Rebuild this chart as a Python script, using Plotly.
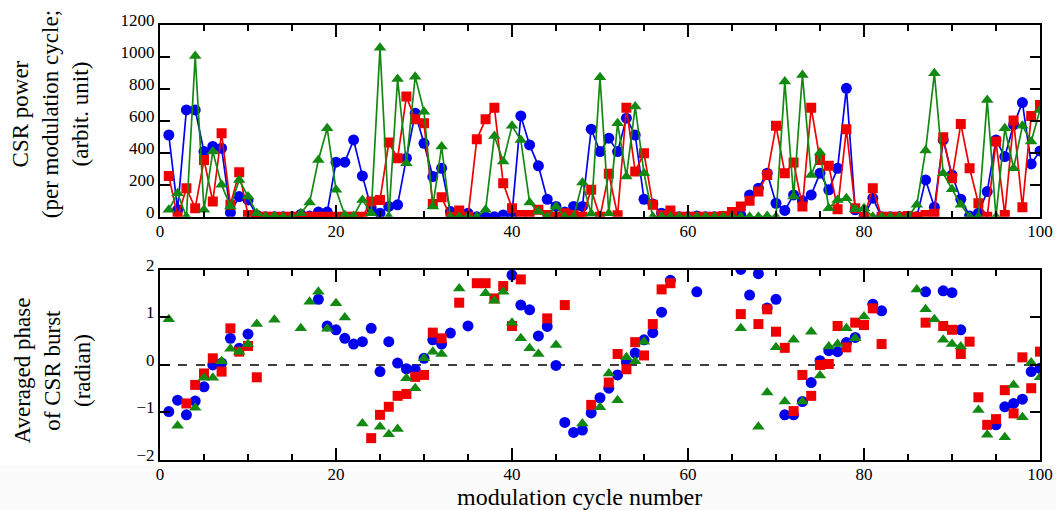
import plotly.graph_objects as go

cycles = list(range(1, 101))

blue_power = [512, 44, 669, 669, 408, 440, 429, 27, 127, 106,
              10, 0, 0, 0, 0, 15, 5, 30, 30, 342,
              342, 481, 256, 55, 23, 65, 75, 367, 648, 460,
              252, 304, 33, 0, 23, 0, 0, 0, 12, 15,
              631, 450, 319, 110, 65, 30, 65, 65, 548, 408,
              492, 408, 617, 512, 110, 81, 23, 5, 0, 0,
              5, 0, 0, 0, 0, 10, 137, 179, 273, 85,
              40, 137, 100, 137, 273, 169, 304, 804, 44, 0,
              117, 0, 0, 0, 0, 0, 231, 60, 481, 262,
              110, 6, 23, 158, 481, 377, 575, 715, 331, 412]

red_power = [256, 0, 179, 54, 356, 96, 523, 75, 279, 12,
             0, 0, 0, 0, 0, 0, 0, 0, 0, 0,
             0, 0, 0, 96, 106, 465, 367, 752, 610, 585,
             81, 123, 0, 40, 0, 485, 610, 683, 210, 54,
             12, 12, 44, 12, 0, 23, 12, 0, 169, 0,
             269, 10, 683, 283, 398, 75, 10, 40, 0, 0,
             0, 0, 0, 5, 30, 65, 100, 158, 262, 569,
             273, 340, 65, 683, 356, 319, 48, 548, 54, 0,
             179, 0, 0, 0, 6, 0, 12, 20, 498, 242,
             581, 304, 85, 0, 471, 12, 602, 60, 631, 700]

green_power = [44, 148, 0, 1006, 44, 408, 200, 65, 231, 127,
               23, 0, 6, 0, 0, 23, 90, 356, 554, 169,
               12, 6, 106, 23, 1058, 0, 862, 335, 877, 658,
               65, 440, 0, 0, 0, 0, 44, 506, 346, 569,
               481, 90, 33, 0, 65, 0, 0, 215, 20, 873,
               23, 585, 252, 690, 273, 0, 0, 0, 0, 0,
               0, 0, 0, 0, 0, 0, 0, 0, 5, 0,
               846, 127, 887, 262, 402, 54, 106, 117, 48, 54,
               0, 0, 0, 0, 0, 75, 415, 898, 273, 173,
               75, 0, 0, 731, 0, 554, 304, 569, 471, 669]

N = None
blue_phase = [-0.98, -0.74, -1.05, -0.76, -0.46, 0.0, 0.04, 0.56, 0.35, 0.65,
              N, N, N, N, N, N, N, 1.38, 0.82, 0.74,
              0.56, 0.44, 0.49, 0.77, -0.14, 0.49, 0.04, -0.08, -0.10, 0.14,
              0.53, 0.44, 0.67, N, 0.82, N, N, N, N, 1.89,
              1.26, 1.16, 0.61, 0.81, -0.01, -1.21, -1.42, -1.37, -1.01, -0.69,
              -0.49, -0.21, 0.06, 0.25, 0.53, 0.68, 1.11, 1.78, N, N,
              1.54, N, N, N, N, 2.01, 1.47, 1.92, 1.20, 1.38,
              -1.05, -1.05, -0.77, -0.37, 0.09, 0.30, 0.28, 0.47, 0.58, N,
              1.28, 1.14, N, N, N, N, 1.54, N, 1.56, 1.52,
              0.74, N, N, N, -1.26, -0.88, -0.81, -0.72, -0.14, -0.07]

red_phase = [N, N, -0.81, -0.42, -0.18, 0.14, -0.14, 0.77, 0.28, 0.40,
             -0.26, N, N, N, N, N, N, N, N, N,
             N, N, N, -1.54, -1.05, -0.88, -0.65, -0.61, -0.25, -0.21,
             0.68, 0.56, N, 1.31, N, 1.72, 1.72, 1.40, 1.66, 0.82,
             1.80, N, N, 0.98, N, 1.26, N, N, -0.84, N,
             -0.37, 0.23, -0.09, 0.48, 0.20, 0.86, 1.59, 1.72, N, N,
             N, N, N, N, N, 1.07, N, 0.86, 1.17, 0.70,
             0.36, -0.97, -0.21, -0.65, 0.0, 0.02, 0.82, 0.37, 0.89, 0.84,
             1.19, 0.44, N, N, N, N, 0.89, N, 0.82, 0.74,
             0.23, 0.49, -0.68, -1.26, -1.14, -0.53, -1.02, 0.16, -0.49, 0.28]

green_phase = [0.96, -1.28, N, -0.90, -0.27, -0.27, 0.08, 0.34, 0.28, 0.44,
               0.86, N, 0.95, N, N, 0.77, 1.33, 1.54, 0.76, 1.30,
               1.00, N, -1.23, N, -1.30, -1.46, -1.35, -0.28, -0.49, 0.14,
               0.28, 0.23, N, 1.61, N, N, 1.51, 1.35, 1.54, 0.89,
               0.56, 0.35, 0.23, N, 0.42, N, N, -1.23, N, -0.89,
               -0.18, -0.74, 0.16, 0.08, 0.49, N, N, N, N, N,
               N, N, N, N, N, 0.77, N, -1.30, -0.58, 0.37,
               -0.77, 0.53, -0.77, 0.70, -0.22, 0.39, 0.44, 0.77, 0.56, 1.02,
               N, N, N, N, N, 1.59, 1.17, 0.96, 0.53, 0.44,
               0.39, N, -0.95, -1.47, N, -1.52, -0.42, -1.10, 0.05, -0.26]

power_ticks = [0, 200, 400, 600, 800, 1000, 1200]
phase_ticks = [-2, -1, 0, 1, 2]
x_ticks = [0, 20, 40, 60, 80, 100]

BLUE = "#0000ee"
RED = "#ee0000"
GREEN = "#128a12"

series = [
    ("blue", blue_power, blue_phase, BLUE, "circle", 11),
    ("red", red_power, red_phase, RED, "square", 10),
    ("green", green_power, green_phase, GREEN, "triangle-up", 11),
]

fig = go.Figure()
for name, pw, ph, col, sym, sz in series:
    fig.add_trace(go.Scatter(x=cycles, y=pw, mode="lines+markers", name=name,
                             xaxis="x2", yaxis="y2",
                             line=dict(color=col, width=1.7),
                             marker=dict(color=col, symbol=sym, size=sz,
                                         line=dict(width=0)),
                             showlegend=False))
for name, pw, ph, col, sym, sz in series:
    fig.add_trace(go.Scatter(x=cycles, y=ph, mode="markers", name=name,
                             xaxis="x", yaxis="y",
                             marker=dict(color=col, symbol=sym, size=sz,
                                         line=dict(width=0)),
                             showlegend=False))

TICKFONT = dict(family="Liberation Serif", size=17, color="black")
common_x = dict(range=[0, 100], tickvals=x_ticks, ticks="inside", ticklen=12,
                tickwidth=1.5, tickcolor="black", showline=True, linecolor="black",
                linewidth=2, mirror="allticks", showgrid=False, zeroline=False,
                tickfont=TICKFONT, ticklabelstandoff=-2, automargin=False,
                minor=dict(dtick=5, ticks="inside", ticklen=6, tickwidth=1.5,
                           tickcolor="black", showgrid=False))
common_y = dict(ticks="inside", ticklen=10, tickwidth=1.5, tickcolor="black",
                showline=True, linecolor="black", linewidth=2, mirror="allticks",
                showgrid=False, zeroline=False, tickfont=TICKFONT,
                ticklabelshift=-5, automargin=False)

fig.update_layout(
    width=1056, height=510,
    margin=dict(l=160, r=16, t=25, b=50),
    paper_bgcolor="white", plot_bgcolor="white",
    font=dict(family="Liberation Serif", color="black"),
    xaxis=dict(domain=[0, 1], anchor="y", **common_x),
    yaxis=dict(domain=[0, 0.437], anchor="x", range=[-2, 2], tickvals=phase_ticks,
               **common_y),
    xaxis2=dict(domain=[0, 1], anchor="y2", **common_x),
    yaxis2=dict(domain=[0.559, 1], anchor="x2", range=[0, 1200],
                tickvals=power_ticks, **common_y),
)

# very faint grey band at the bottom of the page (scan artefact in the reference)
fig.add_shape(type="rect", xref="paper", yref="paper", x0=-0.2, x1=1.05,
              y0=-0.2, y1=-0.012, fillcolor="#fbfbfb", line=dict(width=0),
              layer="below")

fig.add_shape(type="line", xref="x domain", yref="y", x0=0, x1=1, y0=0, y1=0,
              line=dict(color="black", width=1.5, dash="dash"), layer="below")

TITLEFONT = dict(family="Liberation Serif", size=23, color="black")
fig.add_annotation(xref="paper", yref="paper", x=-0.125, y=0.795,
                   xanchor="center", yanchor="middle", textangle=-90, showarrow=False,
                   text="CSR power<br>(per modulation cycle;<br>(arbit. unit)",
                   font=TITLEFONT)
fig.add_annotation(xref="paper", yref="paper", x=-0.122, y=0.205,
                   xanchor="center", yanchor="middle", textangle=-90, showarrow=False,
                   text="Averaged phase<br>of CSR burst<br>(radian)",
                   font=TITLEFONT)
fig.add_annotation(xref="paper", yref="paper", x=0.477, y=-0.0851,
                   xanchor="center", yanchor="middle", showarrow=False,
                   text="modulation cycle number",
                   font=dict(family="Liberation Serif", size=24, color="black"))

fig.write_html(
    "out.html",
    config={"displayModeBar": False},
    post_script="document.body.style.margin='0';document.body.style.overflow='hidden';",
)
